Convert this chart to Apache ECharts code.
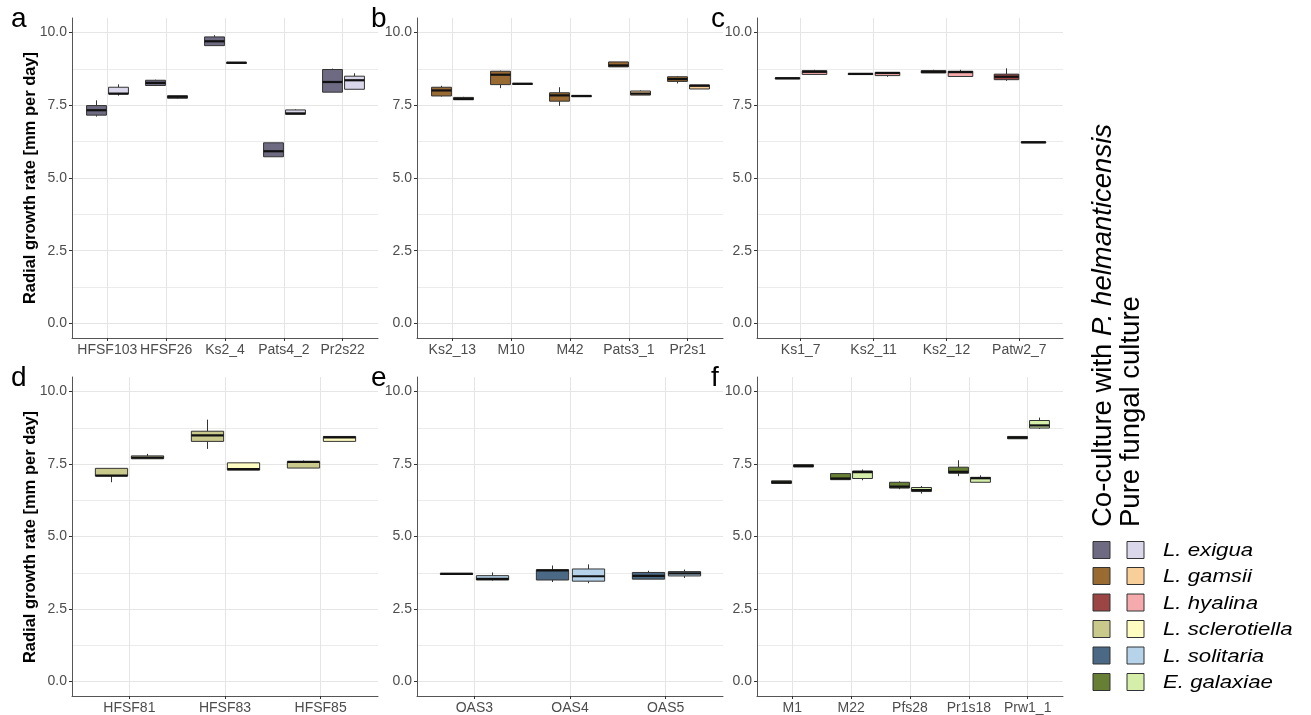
<!DOCTYPE html>
<html>
<head>
<meta charset="utf-8">
<script src="https://cdn.jsdelivr.net/npm/echarts@6/dist/echarts.min.js"></script>
<style>html,body{margin:0;padding:0;background:#fff}#c{width:1311px;height:715px}</style>
</head>
<body>
<div id="c"></div>
<script>
// ---- data: [lower whisker, Q1, median, Q3, upper whisker] ----
const catsA = ['HFSF103','HFSF26','Ks2_4','Pats4_2','Pr2s22'];
const coA = [[7.11,7.16,7.33,7.49,7.67],[8.16,8.18,8.27,8.36,8.38],[9.55,9.55,9.70,9.85,9.91],[5.73,5.73,5.92,6.21,6.21],[7.95,7.95,8.30,8.73,8.76]];
const pureA = [[7.83,7.89,7.90,8.12,8.22],[7.72,7.74,7.79,7.83,7.83],[8.93,8.94,8.96,8.98,8.98],[7.19,7.19,7.22,7.34,7.36],[8.05,8.05,8.36,8.50,8.60]];

const catsB = ['Ks2_13','M10','M42','Pats3_1','Pr2s1'];
const coB = [[7.80,7.82,8.01,8.12,8.17],[8.09,8.21,8.55,8.67,8.69],[7.48,7.64,7.84,7.93,8.12],[8.82,8.82,8.87,8.99,8.99],[8.25,8.32,8.40,8.48,8.50]];
const pureB = [[7.69,7.69,7.72,7.77,7.79],[8.23,8.23,8.24,8.25,8.25],[7.81,7.81,7.82,7.83,7.83],[7.85,7.85,7.90,7.99,8.01],[8.06,8.06,8.17,8.20,8.20]];

const catsC = ['Ks1_7','Ks2_11','Ks2_12','Patw2_7'];
const coC = [[8.43,8.43,8.43,8.44,8.44],[8.58,8.58,8.58,8.59,8.59],[8.61,8.61,8.65,8.69,8.72],[8.34,8.38,8.48,8.57,8.77]];
const pureC = [[8.55,8.56,8.65,8.69,8.72],[8.48,8.52,8.61,8.63,8.63],[8.49,8.49,8.64,8.67,8.72],[6.23,6.23,6.23,6.24,6.24]];

const catsD = ['HFSF81','HFSF83','HFSF85'];
const coD = [[6.87,7.09,7.10,7.35,7.35],[8.02,8.28,8.49,8.63,9.03],[7.36,7.36,7.57,7.58,7.62]];
const pureD = [[7.68,7.68,7.72,7.78,7.85],[7.29,7.29,7.32,7.54,7.54],[8.28,8.28,8.42,8.45,8.45]];

const catsE = ['OAS3','OAS4','OAS5'];
const coE = [[3.69,3.69,3.71,3.73,3.73],[3.43,3.50,3.83,3.85,4.00],[3.53,3.53,3.64,3.76,3.82]];
const pureE = [[3.48,3.50,3.54,3.65,3.76],[3.39,3.46,3.63,3.88,4.04],[3.57,3.64,3.73,3.79,3.86]];

const catsF = ['M1','M22','Pfs28','Pr1s18','Prw1_1'];
const coF = [[6.83,6.83,6.87,6.92,6.92],[6.96,6.96,7.00,7.17,7.17],[6.63,6.67,6.72,6.87,6.90],[7.08,7.18,7.23,7.39,7.63],[8.37,8.37,8.41,8.45,8.45]];
const pureF = [[7.40,7.40,7.43,7.48,7.48],[6.94,7.00,7.22,7.26,7.31],[6.48,6.55,6.60,6.69,6.74],[6.87,6.87,7.01,7.04,7.11],[8.71,8.74,8.83,9.00,9.10]];

const species = ['L. exigua','L. gamsii','L. hyalina','L. sclerotiella','L. solitaria','E. galaxiae'];
const coColors = ['#6e6a82','#9a6a33','#9b4545','#c9c98c','#4b6884','#667f34'];
const pureColors = ['#d9d7e9','#f8cf99','#f5abab','#fffcc2','#b6d3ea','#d5eea9'];

const yTicks = [0, 2.5, 5, 7.5, 10];
const yMinor = [1.25, 3.75, 6.25, 8.75];
const panelLetters = ['a','b','c','d','e','f'];
const axisTitle = 'Radial growth rate [mm per day]';
const legendTitle1 = 'Co-culture with ';
const legendTitle1b = 'P. helmanticensis';
const legendTitle2 = 'Pure fungal culture';

// ---- layout ----
const panels = [
  {cats: catsA, co: coA, pure: pureA},
  {cats: catsB, co: coB, pure: pureB},
  {cats: catsC, co: coC, pure: pureC},
  {cats: catsD, co: coD, pure: pureD},
  {cats: catsE, co: coE, pure: pureE},
  {cats: catsF, co: coF, pure: pureF}
];
const lefts = [72, 417, 757];
const tops = [18, 377];
const letterX = [11, 371, 711];
const W = 306, H = 320;
const FONT = '"Liberation Sans", Arial, sans-serif';

const grid = [], xAxis = [], yAxis = [], series = [], graphic = [];

function renderBox(offset, color) {
  return function (params, api) {
    const x = api.value(0) + offset;
    const lo = api.coord([x, api.value(1)]);
    const q1 = api.coord([x, api.value(2)]);
    const md = api.coord([x, api.value(3)]);
    const q3 = api.coord([x, api.value(4)]);
    const hi = api.coord([x, api.value(5)]);
    const w = api.size([0.3375, 0])[0];
    const cx = Math.round(md[0]) + 0.5;
    const left = cx - w / 2;
    return {
      type: 'group',
      children: [
        {type: 'line', shape: {x1: cx, y1: hi[1], x2: cx, y2: q3[1]}, style: {stroke: '#333', lineWidth: 1}},
        {type: 'line', shape: {x1: cx, y1: q1[1], x2: cx, y2: lo[1]}, style: {stroke: '#333', lineWidth: 1}},
        {type: 'rect', shape: {x: left, y: q3[1], width: w, height: Math.max(q1[1] - q3[1], 1)}, style: {fill: color, stroke: '#333', lineWidth: 1}},
        {type: 'line', shape: {x1: left, y1: md[1], x2: left + w, y2: md[1]}, style: {stroke: '#111', lineWidth: 2.2}}
      ]
    };
  };
}

panels.forEach(function (p, i) {
  const row = Math.floor(i / 3), col = i % 3;
  const n = p.cats.length;
  const idx = p.cats.map(function (_, k) { return k; });
  grid.push({left: lefts[col], top: tops[row], width: W, height: H, containLabel: false});
  xAxis.push({
    type: 'value', gridIndex: i, min: -0.6, max: n - 0.4,
    axisLine: {show: true, onZero: false, lineStyle: {color: '#555', width: 1}},
    axisTick: {show: true, length: 3, customValues: idx, lineStyle: {color: '#333'}},
    axisLabel: {customValues: idx, margin: 5, color: '#4d4d4d', fontSize: 14, fontFamily: FONT,
      formatter: function (v) { return p.cats[Math.round(v)]; }},
    splitLine: {show: true, lineStyle: {color: '#e5e5e5', width: 1}}
  });
  yAxis.push({
    type: 'value', gridIndex: i, min: -0.5, max: 10.5,
    axisLine: {show: true, onZero: false, lineStyle: {color: '#555', width: 1}},
    axisTick: {show: true, length: 3, customValues: yTicks, lineStyle: {color: '#333'}},
    axisLabel: {customValues: yTicks, margin: 5, color: '#4d4d4d', fontSize: 14, fontFamily: FONT,
      formatter: function (v) { return v.toFixed(1); }},
    splitLine: {show: true, lineStyle: {color: '#e5e5e5', width: 1}}
  });
  yAxis.push({
    type: 'value', gridIndex: i, min: -0.5, max: 10.5, position: 'left',
    axisLine: {show: false, onZero: false}, axisLabel: {show: false},
    axisTick: {show: false, customValues: yMinor},
    splitLine: {show: true, lineStyle: {color: '#ebebeb', width: 1}}
  });
  const coData = p.co.map(function (d, k) { return [k].concat(d); });
  const pureData = p.pure.map(function (d, k) { return [k].concat(d); });
  series.push({
    type: 'custom', xAxisIndex: i, yAxisIndex: 2 * i, data: coData,
    renderItem: renderBox(-0.1875, coColors[i]), silent: true, z: 3
  });
  series.push({
    type: 'custom', xAxisIndex: i, yAxisIndex: 2 * i, data: pureData,
    renderItem: renderBox(0.1875, pureColors[i]), silent: true, z: 3
  });
  graphic.push({
    type: 'text', left: letterX[col], top: tops[row] - 13,
    style: {text: panelLetters[i], font: '28px ' + FONT, fill: '#000'}
  });
});

// y axis titles
[0, 1].forEach(function (r) {
  graphic.push({
    type: 'text', x: 30, y: tops[r] + H / 2, rotation: Math.PI / 2,
    style: {text: axisTitle, font: 'bold 16.5px ' + FONT, fill: '#000', align: 'center', verticalAlign: 'middle'}
  });
});

// legend titles
graphic.push({
  type: 'text', x: 1103, y: 527, rotation: Math.PI / 2,
  style: {
    text: '{n|' + legendTitle1 + '}{i|' + legendTitle1b + '}',
    align: 'left', verticalAlign: 'middle',
    rich: {
      n: {fontSize: 27.5, fontFamily: FONT, fill: '#000'},
      i: {fontSize: 27.5, fontFamily: FONT, fontStyle: 'italic', fill: '#000'}
    }
  }
});
graphic.push({
  type: 'text', x: 1131, y: 527, rotation: Math.PI / 2,
  style: {text: legendTitle2, font: '27.5px ' + FONT, fill: '#000', align: 'left', verticalAlign: 'middle'}
});

// legend keys
const rowY = [550, 576, 602.5, 629, 655.5, 682];
species.forEach(function (s, k) {
  graphic.push({type: 'rect', shape: {x: 1093, y: rowY[k] - 8.5, width: 17, height: 17},
    style: {fill: coColors[k], stroke: '#333', lineWidth: 1}});
  graphic.push({type: 'rect', shape: {x: 1127, y: rowY[k] - 8.5, width: 17, height: 17},
    style: {fill: pureColors[k], stroke: '#333', lineWidth: 1}});
  graphic.push({type: 'text', x: 1163, y: rowY[k] + 1, scaleX: 1.2,
    style: {text: s, font: 'italic 18.5px ' + FONT, fill: '#000', align: 'left', verticalAlign: 'middle'}});
});

const chart = echarts.init(document.getElementById('c'), null, {renderer: 'canvas'});
chart.setOption({
  animation: false,
  backgroundColor: '#fff',
  grid: grid, xAxis: xAxis, yAxis: yAxis, series: series, graphic: graphic
});
</script>
</body>
</html>
